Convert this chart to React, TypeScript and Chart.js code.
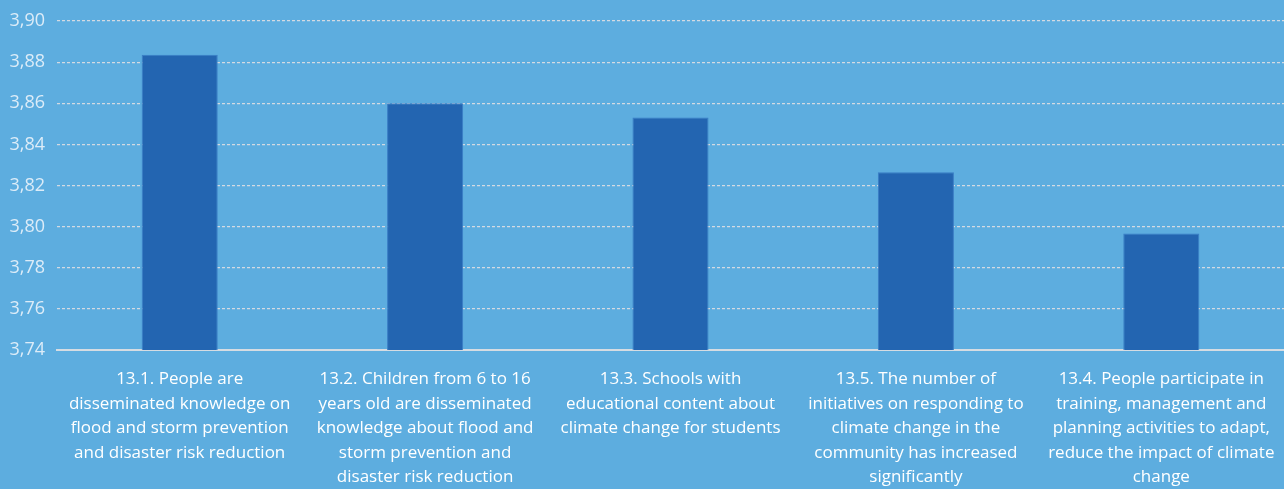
import React, { useEffect, useRef } from "react";
import { Chart, registerables } from "chart.js";

Chart.register(...registerables);

const categories: string[][] = [
  ["13.1. People are", "disseminated knowledge on", "flood and storm prevention", "and disaster risk reduction"],
  ["13.2. Children from 6 to 16", "years old are disseminated", "knowledge about flood and", "storm prevention and", "disaster risk reduction"],
  ["13.3. Schools with", "educational content about", "climate change for students"],
  ["13.5. The number of", "initiatives on responding to", "climate change in the", "community has increased", "significantly"],
  ["13.4. People participate in", "training, management and", "planning activities to adapt,", "reduce the impact of climate", "change"],
];
const values: number[] = [3.8836, 3.86, 3.8531, 3.8265, 3.7966];
const yMin = 3.74;
const yMax = 3.9;
const yStep = 0.02;

const BG = "#5DADDF";

export default function App() {
  const ref = useRef<HTMLCanvasElement | null>(null);
  useEffect(() => {
    document.body.style.margin = "0";
    document.body.style.background = BG;
    const ctx = ref.current!;
    const chart = new Chart(ctx, {
      type: "bar",
      data: {
        labels: categories,
        datasets: [
          {
            data: values,
            backgroundColor: "#2365B1",
            borderColor: "#3A7DC5",
            borderWidth: 1,
            barPercentage: 0.31,
            categoryPercentage: 1,
          },
        ],
      },
      options: {
        animation: false,
        responsive: false,
        maintainAspectRatio: false,
        layout: { padding: { top: 19, right: 0, left: 0, bottom: 0 } },
        plugins: { legend: { display: false }, tooltip: { enabled: false } },
        scales: {
          x: {
            grid: { display: false },
            border: { display: true, color: "#D6DCE2", width: 2 },
            ticks: {
              color: "#FFFFFF",
              maxRotation: 0,
              minRotation: 0,
              autoSkip: false,
              padding: 9,
              font: { family: "'Open Sans'", size: 17, lineHeight: 1.44 },
            },
            afterFit: (s: any) => {
              s.height = 139;
            },
          },
          y: {
            min: yMin,
            max: yMax,
            border: { display: false, dash: [3, 2] },
            grid: {
              color: "#D3DAE2",
              lineWidth: 1.2,
              drawTicks: false,
            },
            ticks: {
              stepSize: yStep,
              color: "#DCECF8",
              padding: 12,
              font: { family: "'Open Sans'", size: 18, lineHeight: 1.0 },
              callback: (v: any) => Number(v).toFixed(2).replace(".", ","),
            },
            afterFit: (s: any) => {
              s.width = 57;
            },
          },
        },
      },
    });
    return () => chart.destroy();
  }, []);
  return (
    <div style={{ width: 1284, height: 489, background: BG }}>
      <canvas ref={ref} width={1284} height={489} style={{ display: "block" }} />
    </div>
  );
}
